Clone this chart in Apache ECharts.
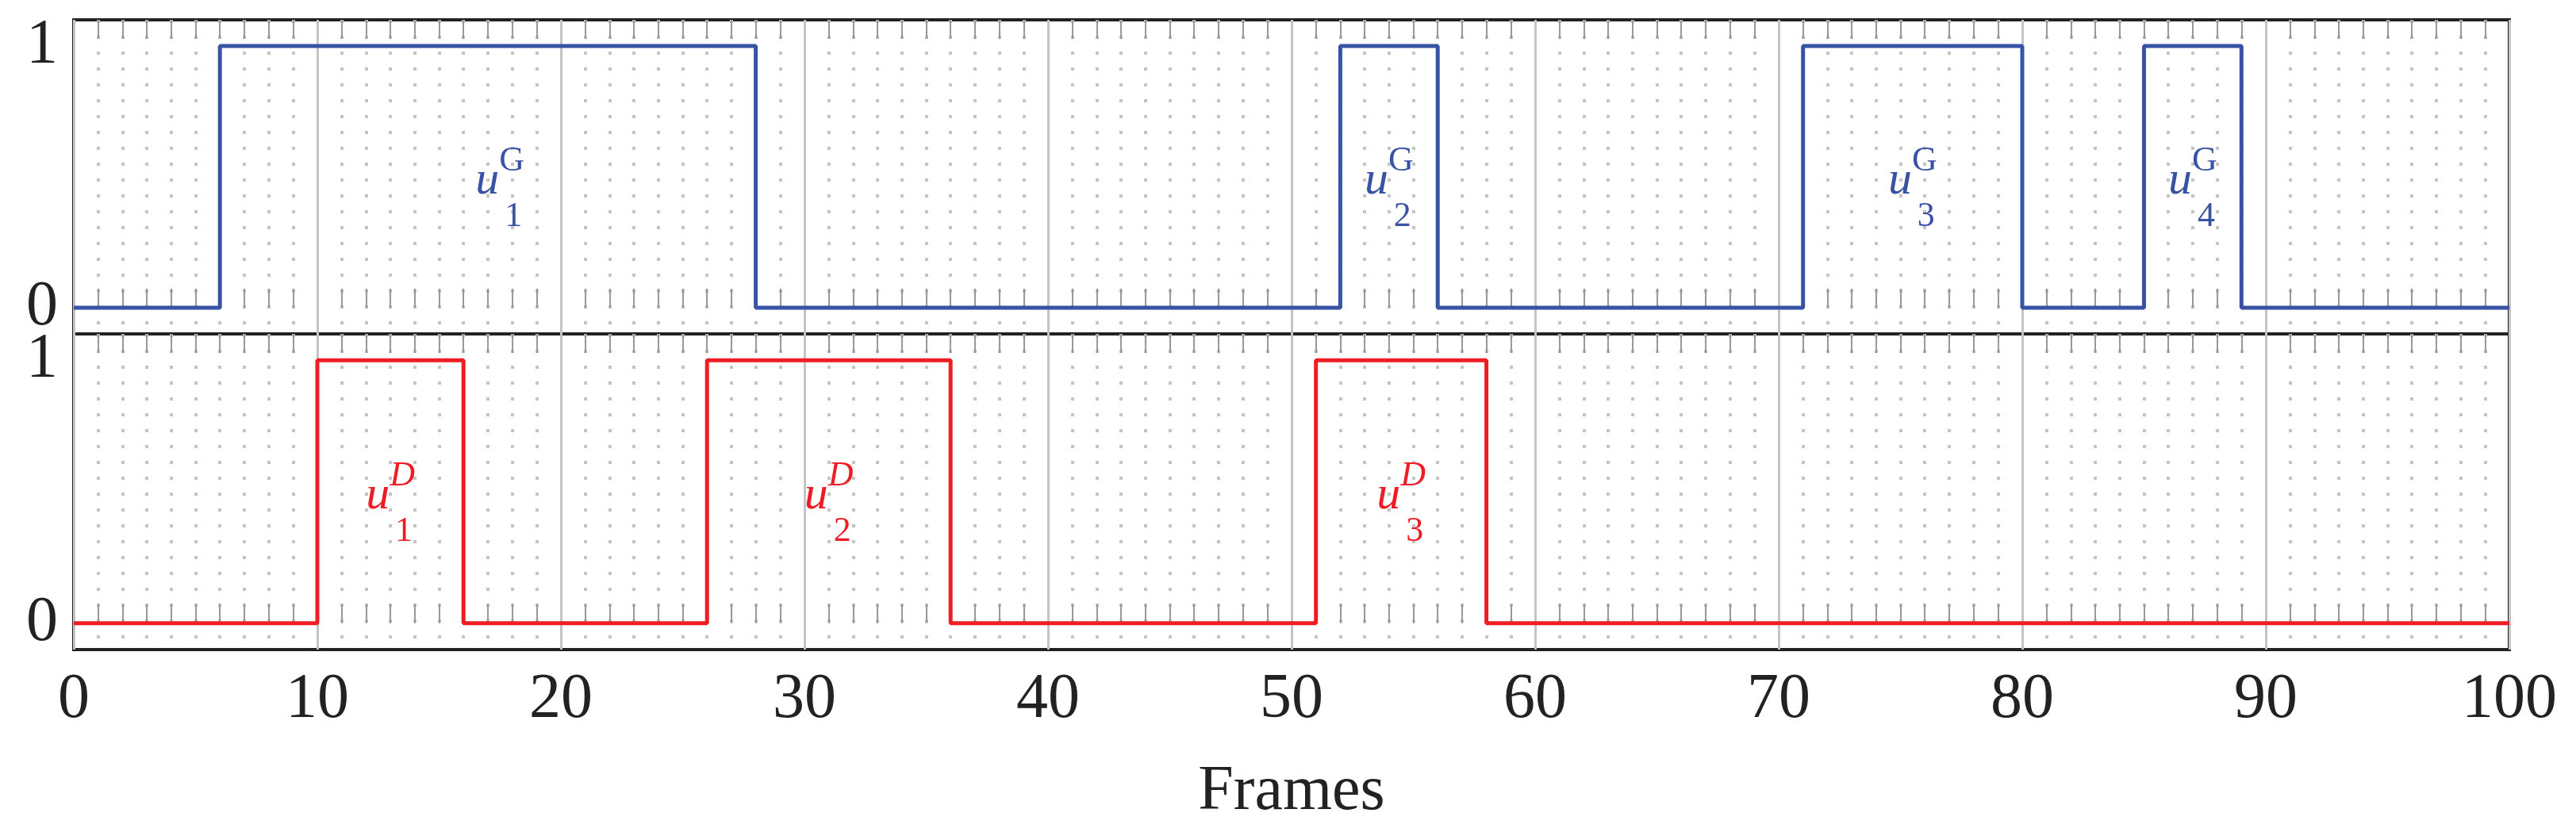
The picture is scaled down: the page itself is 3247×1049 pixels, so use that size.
<!DOCTYPE html>
<html>
<head>
<meta charset="utf-8">
<script src="https://cdn.jsdelivr.net/npm/echarts@6/dist/echarts.min.js"></script>
<style>html,body{margin:0;padding:0;background:#fff}#chart{width:3247px;height:1049px}</style>
</head>
<body>
<div id="chart"></div>
<script>
// 帧序列上的开关信号（阶跃点）
var gFrames = [0, 6, 6, 28, 28, 52, 52, 56, 56, 71, 71, 80, 80, 85, 85, 89, 89, 100];
var gValues = [0, 0, 1, 1, 0, 0, 1, 1, 0, 0, 1, 1, 0, 0, 1, 1, 0, 0];
var dFrames = [0, 10, 10, 16, 16, 26, 26, 36, 36, 51, 51, 58, 58, 100];
var dValues = [0, 0, 1, 1, 0, 0, 1, 1, 0, 0, 1, 1, 0, 0];
// 标注位置
var gLabels = [[17.5, 'u', '1'], [54, 'u', '2'], [75.5, 'u', '3'], [87, 'u', '4']];
var dLabels = [[13, 'u', '1'], [31, 'u', '2'], [54.5, 'u', '3']];

var blue = '#3953a4', red = '#ee1c25';
var serif = 'Liberation Serif';

function pairs(xs, ys) {
    return xs.map(function(x, i) { return [x, ys[i]]; });
}
function labelPoints(list, sup, color) {
    return list.map(function(l) {
        return {
            coord: [l[0], 0.5],
            symbol: 'circle',
            symbolSize: 1,
            itemStyle: { color: 'rgba(0,0,0,0)' },
            label: {
                show: true,
                position: 'inside',
                formatter: '{u|' + l[1] + '}{s|' + sup + '}\n{b|' + l[2] + '}',
                rich: {
                    u: { fontFamily: serif, fontStyle: 'italic', fontSize: 60, color: color, padding: [40, 0, 0, 0] },
                    s: { fontFamily: serif, fontStyle: sup === 'D' ? 'italic' : 'normal', fontSize: 44, color: color, padding: [0, 0, 10, 0] },
                    b: { fontFamily: serif, fontSize: 44, color: color, padding: [0, 0, 0, 34], lineHeight: 30 }
                }
            }
        };
    });
}
function xAxis(idx, pos, showLabel) {
    return {
        type: 'value', gridIndex: idx, position: pos, min: 0, max: 100, interval: 10,
        axisLine: { show: false },
        axisTick: { show: false, inside: true },
        minorTick: { show: true, splitNumber: 10, inside: true, length: 24, lineStyle: { color: '#999', width: 2 } },
        splitLine: { show: pos === 'bottom', lineStyle: { color: '#c4c4c4', width: 3 } },
        minorSplitLine: { show: pos === 'bottom', lineStyle: { color: '#c4c4c4', width: 4, type: [4, 16] } },
        axisLabel: showLabel ? { show: true, fontFamily: serif, fontSize: 80, color: '#222', margin: 24 } : { show: false },
        name: showLabel ? 'Frames' : '', nameLocation: 'middle', nameGap: 140,
        nameTextStyle: { fontFamily: serif, fontSize: 80, color: '#222' }
    };
}
function yAxis(idx) {
    return {
        type: 'value', gridIndex: idx, min: -0.1, max: 1.1, interval: 0.1,
        axisLine: { show: false }, axisTick: { show: false }, splitLine: { show: false },
        axisLabel: {
            fontFamily: serif, fontSize: 80, color: '#222', margin: 20,
            formatter: function(v) { return Math.abs(v) < 1e-6 ? '0' : (Math.abs(v - 1) < 1e-6 ? '1' : ''); }
        }
    };
}

var myChart = echarts.init(document.getElementById('chart'));
var option = {
    animation: false,
    grid: [
        { left: 93, right: 84, top: 25, height: 396, show: true, borderColor: '#222', borderWidth: 4 },
        { left: 93, right: 84, top: 421, height: 398, show: true, borderColor: '#222', borderWidth: 4 }
    ],
    xAxis: [xAxis(0, 'bottom', false), xAxis(0, 'top', false), xAxis(1, 'bottom', true), xAxis(1, 'top', false)],
    yAxis: [yAxis(0), yAxis(1)],
    series: [
        {
            type: 'line', xAxisIndex: 0, yAxisIndex: 0, data: pairs(gFrames, gValues),
            showSymbol: false, lineStyle: { color: blue, width: 5 },
            markPoint: { silent: true, data: labelPoints(gLabels, 'G', blue) }
        },
        {
            type: 'line', xAxisIndex: 2, yAxisIndex: 1, data: pairs(dFrames, dValues),
            showSymbol: false, lineStyle: { color: red, width: 5 },
            markPoint: { silent: true, data: labelPoints(dLabels, 'D', red) }
        }
    ]
};
myChart.setOption(option);
</script>
</body>
</html>
